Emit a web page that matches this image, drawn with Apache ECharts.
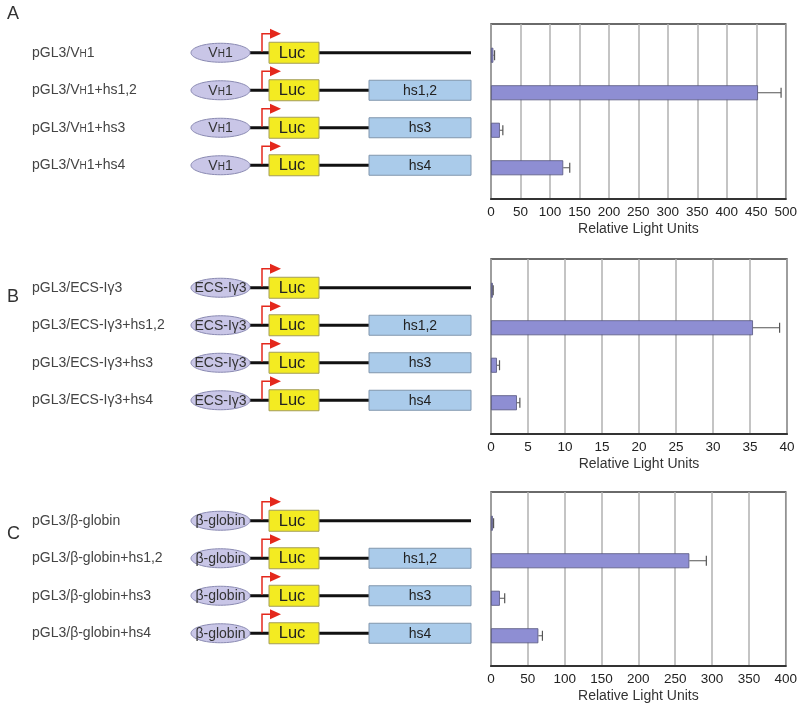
<!DOCTYPE html>
<html>
<head>
<meta charset="utf-8">
<script src="https://cdn.jsdelivr.net/npm/echarts@6/dist/echarts.min.js"></script>
<style>html,body{margin:0;padding:0;background:#fff}#c{width:800px;height:704px}</style>
</head>
<body>
<div id="c"></div>
<script>
// ---- data ----
const panelLetters = ['A', 'B', 'C'];
const categoriesA = ['pGL3/V{s|H}1', 'pGL3/V{s|H}1+hs1,2', 'pGL3/V{s|H}1+hs3', 'pGL3/V{s|H}1+hs4'];
const categoriesB = ['pGL3/ECS-Iγ3', 'pGL3/ECS-Iγ3+hs1,2', 'pGL3/ECS-Iγ3+hs3', 'pGL3/ECS-Iγ3+hs4'];
const categoriesC = ['pGL3/β-globin', 'pGL3/β-globin+hs1,2', 'pGL3/β-globin+hs3', 'pGL3/β-globin+hs4'];
const promoters = ['V{s|H}1', 'ECS-Iγ3', 'β-globin'];
const enhancers = ['', 'hs1,2', 'hs3', 'hs4'];
const valuesA = [4, 451, 15, 122];
const errorsA = [2, 39, 5, 11];
const valuesB = [0.25, 35.4, 0.8, 3.5];
const errorsB = [0.05, 3.6, 0.35, 0.4];
const valuesC = [2.5, 268, 12, 64];
const errorsC = [1, 23, 6.5, 5.5];
const axisMax = [500, 40, 400];
const axisInterval = [50, 5, 50];
const axisTitle = 'Relative Light Units';

// ---- layout ----
const panelTops = [24, 259, 492];
const letterTops = [0, 283, 520];
const PLOT_LEFT = 491, PLOT_W = 296, PLOT_H = 175;
const DIA_LEFT = 190, DIA_W = 282;
const L = {ellCx: 220.5, ellRx: 29.5, ellRy: 9.5, lineX1: 250, lineX2: 471,
  lucX1: 269, lucX2: 319, hsX1: 369, hsX2: 471, arrowX: 262, arrowTip: 281};
const FONT = '"Liberation Sans", Arial, Helvetica, sans-serif';
const RED = '#e4281c';

const cats = [categoriesA, categoriesB, categoriesC];
const vals = [valuesA, valuesB, valuesC];
const errs = [errorsA, errorsB, errorsC];

const subRich = {s: {fontSize: 10, fontFamily: FONT, color: '#333', verticalAlign: 'bottom', padding: [0, 0, 1, 0]}};

function diagramRender(pi) {
  return function (params, api) {
    const i = api.value(1);
    const px = u => api.coord([u, i])[0];
    const yc = api.coord([L.ellCx, i])[1];
    const enh = enhancers[i];
    const ch = [];
    ch.push({type: 'line', shape: {x1: px(L.lineX1), y1: yc, x2: px(L.lineX2), y2: yc},
      style: {stroke: '#111', lineWidth: 3}});
    if (enh) {
      ch.push({type: 'rect', shape: {x: px(L.hsX1), y: yc - 10, width: px(L.hsX2) - px(L.hsX1), height: 20},
        style: {fill: '#aacbea', stroke: '#8196ad', lineWidth: 1}});
      ch.push({type: 'text', style: {text: enh, x: (px(L.hsX1) + px(L.hsX2)) / 2, y: yc + 0.5,
        align: 'center', verticalAlign: 'middle', fontSize: 14, fontFamily: FONT, fill: '#222'}});
    }
    ch.push({type: 'rect', shape: {x: px(L.lucX1), y: yc - 10.5, width: px(L.lucX2) - px(L.lucX1), height: 21},
      style: {fill: '#f3eb22', stroke: '#a39d5a', lineWidth: 1}});
    ch.push({type: 'text', style: {text: 'Luc', x: (px(L.lucX1) + px(L.lucX2)) / 2 - 2, y: yc + 0.5,
      align: 'center', verticalAlign: 'middle', fontSize: 16.5, fontFamily: FONT, fill: '#222'}});
    ch.push({type: 'ellipse', shape: {cx: px(L.ellCx), cy: yc, rx: L.ellRx, ry: L.ellRy},
      style: {fill: '#c9c6e7', stroke: '#8a8ab2', lineWidth: 1}});
    ch.push({type: 'text', style: {text: promoters[pi], x: px(L.ellCx), y: yc + 0.5,
      align: 'center', verticalAlign: 'middle', fontSize: 14, fontFamily: FONT, fill: '#333', rich: subRich}});
    ch.push({type: 'polyline', shape: {points: [[px(L.arrowX), yc - 1], [px(L.arrowX), yc - 19], [px(L.lucX1) + 1, yc - 19]]},
      style: {stroke: RED, lineWidth: 1.5, fill: null}});
    ch.push({type: 'polygon', shape: {points: [[px(L.lucX1) + 1, yc - 24], [px(L.lucX1) + 1, yc - 14], [px(L.arrowTip), yc - 19]]},
      style: {fill: RED}});
    return {type: 'group', children: ch};
  };
}

function errorRender(params, api) {
  const v = api.value(0), i = api.value(1), e = api.value(2);
  const a = api.coord([v, i]);
  const b = api.coord([v + e, i]);
  return {type: 'group', children: [
    {type: 'line', shape: {x1: a[0], y1: a[1], x2: b[0], y2: b[1]}, style: {stroke: '#555', lineWidth: 1}},
    {type: 'line', shape: {x1: b[0], y1: b[1] - 5, x2: b[0], y2: b[1] + 5}, style: {stroke: '#555', lineWidth: 1.2}}
  ]};
}

const grid = [], xAxis = [], yAxis = [], series = [], title = [];
for (let p = 0; p < 3; p++) {
  const T = panelTops[p];
  title.push({text: panelLetters[p], left: 2, top: letterTops[p],
    textStyle: {fontSize: 18, fontWeight: 'normal', color: '#333', fontFamily: FONT}});
  // outer frame grid
  grid.push({left: PLOT_LEFT, width: PLOT_W, top: T, height: PLOT_H, show: true,
    borderColor: '#3a3a3a', borderWidth: 1.5, backgroundColor: 'transparent'});
  // bar grid
  grid.push({left: PLOT_LEFT, width: PLOT_W, top: T + 12.5, height: 150});
  // diagram grid
  grid.push({left: DIA_LEFT, width: DIA_W, top: T + 10, height: 150});

  xAxis.push({type: 'value', gridIndex: 3 * p, min: 0, max: axisMax[p], interval: axisInterval[p],
    name: axisTitle, nameLocation: 'middle', nameGap: 23,
    nameTextStyle: {fontSize: 14, color: '#333', fontFamily: FONT},
    axisLine: {show: true, lineStyle: {color: '#333', width: 2}},
    axisTick: {show: false},
    axisLabel: {fontSize: 13.5, color: '#222', fontFamily: FONT, margin: 6},
    splitLine: {show: true, lineStyle: {color: '#b0b0b0', width: 1.5}}});
  yAxis.push({type: 'value', gridIndex: 3 * p, show: false, min: 0, max: 1});

  xAxis.push({type: 'value', gridIndex: 3 * p + 1, min: 0, max: axisMax[p], show: false});
  yAxis.push({type: 'category', gridIndex: 3 * p + 1, data: cats[p], inverse: true, show: false});

  xAxis.push({type: 'value', gridIndex: 3 * p + 2, min: DIA_LEFT, max: DIA_LEFT + DIA_W, show: false});
  yAxis.push({type: 'category', gridIndex: 3 * p + 2, data: cats[p], inverse: true,
    axisLine: {show: false}, axisTick: {show: false},
    axisLabel: {align: 'left', margin: DIA_LEFT - 32, fontSize: 14, color: '#444', fontFamily: FONT,
      rich: {s: {fontSize: 10, fontFamily: FONT, color: '#444', verticalAlign: 'bottom', padding: [0, 0, 1, 0]}}}});

  series.push({type: 'bar', xAxisIndex: 3 * p + 1, yAxisIndex: 3 * p + 1, data: vals[p], barWidth: 15,
    itemStyle: {color: '#8e8ed3', borderColor: '#56567e', borderWidth: 0.8}, silent: true});
  series.push({type: 'custom', xAxisIndex: 3 * p + 1, yAxisIndex: 3 * p + 1, renderItem: errorRender,
    data: vals[p].map((v, i) => [v, i, errs[p][i]]), clip: false, silent: true, z: 3});
  series.push({type: 'custom', xAxisIndex: 3 * p + 2, yAxisIndex: 3 * p + 2, renderItem: diagramRender(p),
    data: enhancers.map((e, i) => [L.ellCx, i]), clip: false, silent: true});
}

const chart = echarts.init(document.getElementById('c'), null, {renderer: 'canvas'});
chart.setOption({animation: false, backgroundColor: '#fff', title, grid, xAxis, yAxis, series});
</script>
</body>
</html>
